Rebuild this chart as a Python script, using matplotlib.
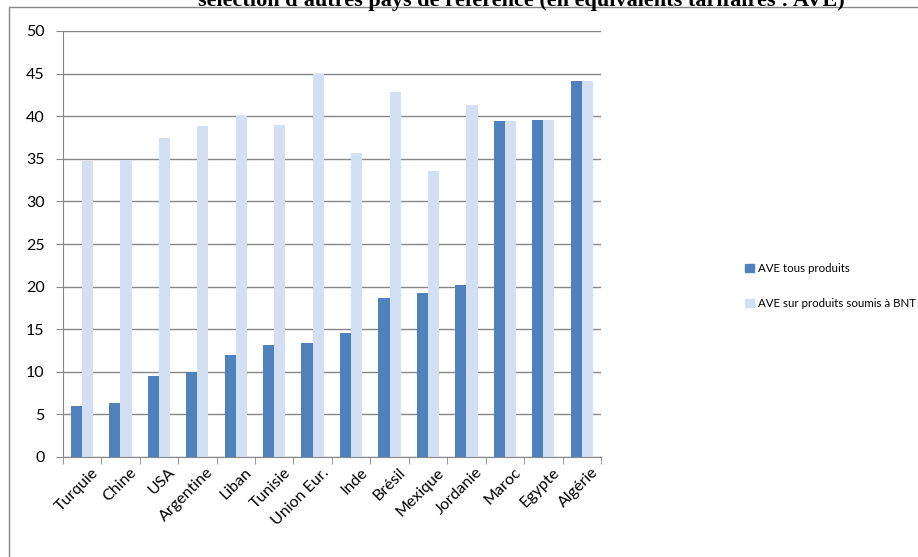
import matplotlib
matplotlib.use('Agg')
import matplotlib.pyplot as plt
import matplotlib.transforms as mtransforms
from matplotlib.patches import Rectangle, Patch
import numpy

# données
pays = ['Turquie', 'Chine', 'USA', 'Argentine', 'Liban', 'Tunisie', 'Union Eur.',
        'Inde', 'Brésil', 'Mexique', 'Jordanie', 'Maroc', 'Egypte', 'Algérie']
ave_tous = [6.0, 6.3, 9.5, 10.0, 12.0, 13.2, 13.4, 14.6, 18.7, 19.3, 20.2, 39.4, 39.5, 44.1]
ave_bnt = [34.7, 34.9, 37.4, 38.9, 40.0, 39.0, 45.0, 35.7, 42.8, 33.6, 41.3, 39.4, 39.5, 44.1]
noms_series = ['AVE tous produits', 'AVE sur produits soumis à BNT']
titre = "sélection d'autres pays de référence (en équivalents tarifaires : AVE)"

couleur_fonce = '#4F81BD'
couleur_clair = '#D3DFF2'
gris = '#878787'

plt.rcParams['font.family'] = ['Lato', 'DejaVu Sans']

W, H = 918, 557
fig = plt.figure(figsize=(W / 100, H / 100), dpi=100)
ax = fig.add_axes([62.7 / W, 1 - 457 / H, (601 - 62.7) / W, (457 - 31) / H])

x = numpy.arange(len(pays))
larg = 0.29
ax.bar(x - larg / 2, ave_tous, larg, color=couleur_fonce, zorder=3)
ax.bar(x + larg / 2, ave_bnt, larg, color=couleur_clair, zorder=3)

ax.set_xlim(-0.5, len(pays) - 0.5)
ax.set_ylim(0, 50)
ax.set_yticks(range(0, 51, 5))
ax.yaxis.grid(True, color=gris, lw=1)
ax.set_axisbelow(True)

for s in ['top', 'right']:
    ax.spines[s].set_visible(False)
for s in ['left', 'bottom']:
    ax.spines[s].set_color(gris)
    ax.spines[s].set_zorder(4)

# ticks entre catégories
ax.set_xticks(x)
ax.set_xticks(numpy.arange(-0.5, len(pays), 1), minor=True)
ax.tick_params(axis='x', which='major', length=0, pad=6)
ax.tick_params(axis='x', which='minor', length=5, color=gris)
ax.tick_params(axis='y', length=5, color=gris, labelsize=11.5, pad=8)
ax.set_xticklabels(pays, rotation=45, ha='right', va='top', rotation_mode='anchor', fontsize=11.5)
decalage = mtransforms.ScaledTranslation(9 / 100, 0, fig.dpi_scale_trans)
for lab in ax.get_xticklabels():
    lab.set_transform(lab.get_transform() + decalage)

# légende
poignees = [Patch(color=couleur_fonce), Patch(color=couleur_clair)]
fig.legend(poignees, noms_series, loc='center left', bbox_to_anchor=(735 / W, 1 - 286 / H),
           frameon=False, fontsize=8.3, handlelength=0.75, handleheight=0.75,
           handletextpad=0.35, labelspacing=2.1)

# titre coupé en haut
fig.text(521 / W, 1 - 6 / H, titre, ha='center', va='baseline', fontsize=16,
         fontweight='bold', family='Liberation Serif')

# cadre
fig.add_artist(Rectangle((8.7 / W, -0.1), 1.2, 1 - 7.3 / H + 0.1, transform=fig.transFigure,
                         fill=False, edgecolor=gris, lw=1))

fig.savefig('out.png', dpi=100)
